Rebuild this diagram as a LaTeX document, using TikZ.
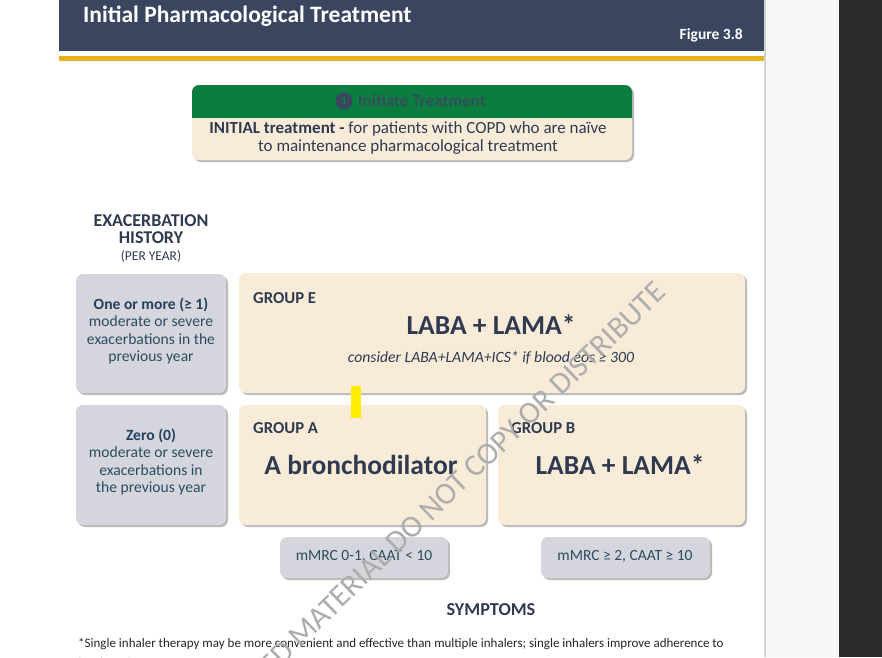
\documentclass[tikz,border=0pt]{standalone}
\usepackage{fontspec}
\setmainfont{Carlito}
\usetikzlibrary{shadows}
\definecolor{navy}{HTML}{3A4660}
\definecolor{gold}{HTML}{E6B01E}
\definecolor{grn}{HTML}{0B7D3F}
\definecolor{cream}{HTML}{F8ECD9}
\definecolor{grybox}{HTML}{D5D5DD}
\definecolor{txt}{HTML}{2F3A50}
\definecolor{teal}{HTML}{24405A}
\definecolor{tealb}{HTML}{2C4C60}
\definecolor{dark}{HTML}{2A2A2A}
\tikzset{
  shad/.style={drop shadow={shadow xshift=2pt,shadow yshift=-2pt,fill=black!45,opacity=.6}},
  creambox/.style={shad,fill=cream,rounded corners=7pt,draw=none},
  graybox/.style={shad,fill=grybox,rounded corners=7pt,draw=none},
  lbl/.style={inner sep=0pt,text=txt},
}
\begin{document}
\begin{tikzpicture}[x=1pt,y=-1pt]
\useasboundingbox (0,0) rectangle (882,657);
\fill[white] (0,0) rectangle (882,657);
\fill[dark] (839,0) rectangle (882,657);
\fill[black!3] (766,0) rectangle (839,657);
\draw[black!18,line width=1.5pt] (765,0) -- (765,657);
% header
\fill[navy] (59,0) rectangle (764,51);
\node[anchor=west,inner sep=0pt,text=white,font=\fontsize{23.5}{28}\selectfont\bfseries] (title) at (83,16) {Initial Pharmacological Treatment};
\node[anchor=east,inner sep=0pt,text=white,font=\fontsize{15.5}{18}\selectfont\bfseries] (fig) at (743,35) {Figure 3.8};
\fill[gold] (59,56) rectangle (764,61);
% initiate box
\path[creambox] (192,85) rectangle (632,160);
\begin{scope}
\clip (190,83) rectangle (634,117);
\fill[grn,rounded corners=7pt] (192,85) rectangle (632,160);
\end{scope}
\node[circle,fill=navy,inner sep=0pt,minimum size=17pt,text=grn,font=\fontsize{12}{13}\selectfont\bfseries] (one) at (344,101) {1};
\node[anchor=west,inner sep=0pt,text=navy!85!grn,font=\fontsize{17}{20}\selectfont\bfseries] (initt) at (358,101) {Initiate Treatment};
\node[lbl,align=center,font=\fontsize{17}{18.5}\selectfont] (initd) at (408,138) {\textbf{INITIAL treatment -} for patients with COPD who are naïve\\to maintenance pharmacological treatment};
% exacerbation history
\node[lbl,align=center,font=\fontsize{18}{17.5}\selectfont\bfseries] (exh) at (151,229) {EXACERBATION\\HISTORY};
\node[lbl,font=\fontsize{13.5}{15}\selectfont] (py) at (151,256) {(PER YEAR)};
% left gray boxes
\path[graybox] (76,274) rectangle (226,393);
\node[inner sep=0pt,align=center,text=tealb,font=\fontsize{15.6}{17.5}\selectfont] (ex1) at (151,331) {\textcolor{teal}{\textbf{One or more (≥ 1)}}\\moderate or severe\\exacerbations in the\\previous year};
\path[graybox] (76,405) rectangle (226,525);
\node[inner sep=0pt,align=center,text=tealb,font=\fontsize{15.6}{17.5}\selectfont] (ex0) at (151,462) {\textcolor{teal}{\textbf{Zero (0)}}\\moderate or severe\\exacerbations in\\the previous year};
% group boxes
\path[creambox] (239,273) rectangle (745,393);
\node[lbl,anchor=west,font=\fontsize{16.7}{19}\selectfont\bfseries] (ge) at (253,298) {GROUP E};
\node[lbl,font=\fontsize{27.5}{30}\selectfont\bfseries] (gel) at (491,325) {LABA + LAMA*};
\node[lbl,font=\fontsize{15.7}{18}\selectfont\itshape] (gec) at (491,358) {consider LABA+LAMA+ICS* if blood eos ≥ 300};
\path[creambox] (239,405) rectangle (486,525);
\node[lbl,anchor=west,font=\fontsize{16.7}{19}\selectfont\bfseries] (ga) at (253,428) {GROUP A};
\node[lbl,font=\fontsize{27.5}{30}\selectfont\bfseries] (gal) at (361,465) {A bronchodilator};
\path[creambox] (498,405) rectangle (745,525);
\node[lbl,anchor=west,font=\fontsize{16.7}{19}\selectfont\bfseries] (gb) at (511,428) {GROUP B};
\node[lbl,font=\fontsize{27.5}{30}\selectfont\bfseries] (gbl) at (620,465) {LABA + LAMA*};
% symptom boxes
\path[graybox] (280,537) rectangle (448,578);
\node[lbl,text=tealb,font=\fontsize{15.5}{17}\selectfont] (s1) at (364,556) {mMRC 0-1, CAAT < 10};
\path[graybox] (541,537) rectangle (710,578);
\node[lbl,text=tealb,font=\fontsize{15.5}{17}\selectfont] (s2) at (625,556) {mMRC ≥ 2, CAAT ≥ 10};
\node[lbl,font=\fontsize{18.2}{20}\selectfont\bfseries] (sym) at (491,610) {SYMPTOMS};
% footnote
\node[lbl,anchor=west,text=black!85,align=left,font=\fontsize{13}{19}\selectfont] (fn) at (78,652) {*Single inhaler therapy may be more convenient and effective than multiple inhalers; single inhalers improve adherence to\\treatment};
% yellow mark
\fill[yellow!95!orange] (351,386) rectangle (361,418);
% watermark
\begin{scope}
\clip (0,0) rectangle (882,657);
\node[inner sep=0pt,anchor=east,rotate=44,text=black!32,font=\fontsize{31}{33}\selectfont] (wm) at (661,287) {COPYRIGHTED MATERIAL DO NOT COPY OR DISTRIBUTE};
\end{scope}
\end{tikzpicture}
\end{document}
